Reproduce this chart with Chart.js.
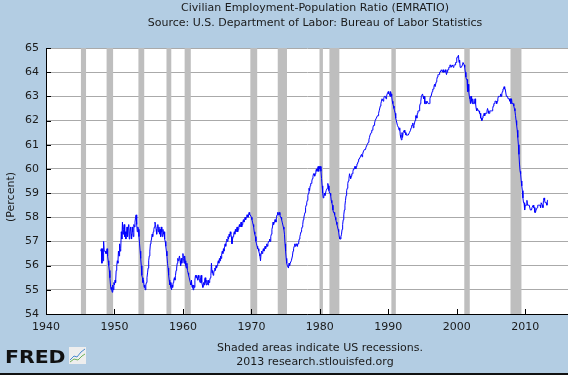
<!DOCTYPE html>
<html>
<head>
<meta charset="utf-8">
<script src="https://cdn.jsdelivr.net/npm/chart.js@4.4.1/dist/chart.umd.min.js"></script>
<style>
  html, body { margin: 0; padding: 0; background: #b3cde3; }
  canvas { display: block; }
</style>
</head>
<body>
<canvas id="chart-emratio" width="568" height="375"></canvas>
<script>
/* ---- Data: monthly EMRATIO, Jan 1948 onward ---- */
var startYear = 1948;
var emratio = [
  56.6, 56.7, 56.1, 56.7, 56.2, 57.0, 56.6, 56.6, 56.6, 56.5, 56.5, 56.7, // 1948
  56.4, 56.2, 56.0, 55.8, 55.5, 55.2, 55.0, 55.1, 54.9, 55.2, 55.0, 55.3, // 1949
  55.2, 55.4, 55.3, 55.8, 56.0, 56.2, 56.1, 56.6, 56.4, 56.9, 56.6, 56.7, // 1950
  57.4, 57.1, 57.8, 57.3, 57.5, 57.7, 57.2, 57.4, 57.1, 57.3, 57.6, 57.2, // 1951
  57.6, 57.7, 57.1, 57.4, 57.6, 57.3, 57.1, 57.6, 57.4, 57.2, 57.7, 57.6, // 1952
  57.8, 58.0, 58.1, 57.7, 57.4, 57.6, 57.5, 57.2, 56.9, 56.6, 56.3, 56.0, // 1953
  55.6, 55.5, 55.3, 55.4, 55.1, 55.2, 55.0, 55.2, 55.3, 55.5, 55.7, 55.9, // 1954
  56.2, 56.4, 56.6, 56.9, 57.0, 57.1, 57.3, 57.2, 57.4, 57.5, 57.6, 57.8, // 1955
  57.7, 57.5, 57.3, 57.6, 57.7, 57.4, 57.6, 57.3, 57.5, 57.2, 57.6, 57.4, // 1956
  57.2, 57.5, 57.3, 57.4, 57.1, 57.0, 56.8, 56.6, 56.4, 56.1, 55.9, 55.6, // 1957
  55.4, 55.2, 55.3, 55.1, 55.0, 55.2, 55.1, 55.3, 55.4, 55.5, 55.4, 55.6, // 1958
  55.8, 55.9, 56.1, 56.3, 56.2, 56.3, 56.4, 56.2, 56.0, 56.3, 56.1, 56.3, // 1959
  56.5, 56.3, 56.1, 56.4, 56.2, 56.0, 55.9, 56.1, 55.8, 55.7, 55.6, 55.5, // 1960
  55.5, 55.3, 55.2, 55.4, 55.1, 55.2, 55.0, 55.2, 55.1, 55.4, 55.6, 55.5, // 1961
  55.6, 55.5, 55.4, 55.6, 55.5, 55.4, 55.3, 55.5, 55.6, 55.3, 55.2, 55.1, // 1962
  55.3, 55.2, 55.4, 55.5, 55.3, 55.2, 55.4, 55.3, 55.2, 55.4, 55.3, 55.4, // 1963
  55.5, 55.6, 56.1, 55.7, 55.8, 55.6, 55.7, 55.8, 55.9, 55.8, 56.0, 55.9, // 1964
  56.0, 56.1, 56.2, 56.1, 56.3, 56.2, 56.4, 56.3, 56.5, 56.6, 56.5, 56.7, // 1965
  56.6, 56.8, 56.9, 56.8, 57.0, 57.1, 57.0, 57.2, 57.1, 57.3, 57.2, 57.4, // 1966
  57.3, 57.2, 56.9, 57.1, 57.2, 57.3, 57.4, 57.3, 57.5, 57.4, 57.5, 57.6, // 1967
  57.4, 57.5, 57.6, 57.7, 57.6, 57.7, 57.8, 57.6, 57.7, 57.8, 57.9, 57.8, // 1968
  57.9, 58.0, 57.9, 58.0, 58.1, 58.1, 58.0, 58.1, 58.2, 58.1, 58.1, 58.1, // 1969
  58.0, 57.9, 57.8, 57.7, 57.6, 57.4, 57.3, 57.2, 57.0, 56.9, 56.8, 56.7, // 1970
  56.7, 56.6, 56.5, 56.4, 56.2, 56.5, 56.6, 56.5, 56.6, 56.7, 56.6, 56.7, // 1971
  56.8, 56.7, 56.8, 56.9, 56.8, 56.9, 57.0, 57.0, 57.1, 57.0, 57.2, 57.3, // 1972
  57.5, 57.6, 57.8, 57.7, 57.8, 57.9, 57.9, 57.8, 58.0, 58.1, 58.2, 58.1, // 1973
  58.2, 58.2, 58.1, 58.0, 58.0, 57.9, 57.8, 57.8, 57.6, 57.5, 57.3, 56.9, // 1974
  56.6, 56.3, 56.1, 56.0, 56.0, 55.9, 56.1, 56.0, 56.1, 56.1, 56.2, 56.2, // 1975
  56.4, 56.6, 56.7, 56.8, 56.9, 56.8, 56.9, 56.9, 56.8, 56.9, 56.9, 57.0, // 1976
  57.1, 57.2, 57.3, 57.4, 57.5, 57.6, 57.7, 57.9, 58.0, 58.1, 58.2, 58.4, // 1977
  58.5, 58.6, 58.7, 58.9, 59.0, 59.2, 59.1, 59.3, 59.4, 59.4, 59.5, 59.6, // 1978
  59.7, 59.8, 59.8, 59.7, 59.8, 59.9, 60.0, 59.9, 60.0, 60.1, 59.9, 60.1, // 1979
  60.0, 60.1, 59.9, 59.6, 59.3, 59.0, 58.8, 58.9, 59.0, 58.9, 59.0, 59.1, // 1980
  59.1, 59.2, 59.4, 59.3, 59.1, 59.0, 59.0, 58.9, 58.7, 58.6, 58.5, 58.3, // 1981
  58.2, 58.2, 58.1, 58.0, 57.9, 57.8, 57.7, 57.6, 57.5, 57.4, 57.2, 57.1, // 1982
  57.1, 57.2, 57.3, 57.5, 57.7, 57.9, 58.1, 58.3, 58.5, 58.7, 58.9, 59.1, // 1983
  59.2, 59.4, 59.5, 59.6, 59.8, 59.7, 59.6, 59.7, 59.8, 59.8, 59.9, 60.0, // 1984
  60.0, 60.1, 60.1, 60.0, 60.1, 60.2, 60.2, 60.3, 60.4, 60.4, 60.4, 60.5, // 1985
  60.5, 60.6, 60.5, 60.6, 60.7, 60.7, 60.8, 60.8, 60.8, 60.9, 60.9, 61.0, // 1986
  61.0, 61.1, 61.2, 61.3, 61.4, 61.4, 61.5, 61.6, 61.6, 61.7, 61.8, 61.8, // 1987
  61.9, 62.0, 62.0, 62.1, 62.1, 62.2, 62.2, 62.3, 62.4, 62.4, 62.6, 62.7, // 1988
  62.8, 62.9, 62.9, 62.8, 62.9, 63.0, 63.0, 63.0, 62.9, 63.0, 63.1, 63.1, // 1989
  63.2, 63.1, 63.1, 63.0, 63.2, 63.1, 63.0, 62.8, 62.7, 62.6, 62.5, 62.4, // 1990
  62.3, 62.1, 62.0, 62.0, 61.8, 61.8, 61.7, 61.6, 61.7, 61.4, 61.3, 61.2, // 1991
  61.5, 61.3, 61.5, 61.5, 61.6, 61.5, 61.5, 61.4, 61.4, 61.4, 61.4, 61.4, // 1992
  61.4, 61.5, 61.5, 61.6, 61.7, 61.8, 61.8, 61.9, 61.7, 61.8, 61.9, 62.0, // 1993
  62.2, 62.2, 62.1, 62.3, 62.4, 62.4, 62.4, 62.6, 62.7, 62.8, 63.0, 63.0, // 1994
  63.1, 63.0, 62.9, 63.0, 62.7, 62.7, 62.8, 62.7, 62.8, 62.8, 62.7, 62.7, // 1995
  62.7, 62.9, 63.0, 63.0, 63.0, 63.2, 63.3, 63.3, 63.4, 63.5, 63.4, 63.4, // 1996
  63.6, 63.7, 63.8, 63.9, 63.9, 63.9, 64.0, 64.0, 64.0, 64.1, 64.1, 64.0, // 1997
  64.1, 64.0, 64.0, 64.0, 64.1, 64.0, 63.9, 64.0, 64.1, 64.1, 64.2, 64.2, // 1998
  64.3, 64.3, 64.2, 64.2, 64.3, 64.3, 64.2, 64.3, 64.3, 64.3, 64.4, 64.4, // 1999
  64.6, 64.6, 64.6, 64.7, 64.4, 64.5, 64.2, 64.2, 64.2, 64.2, 64.3, 64.4, // 2000
  64.4, 64.3, 64.2, 64.0, 63.8, 63.7, 63.7, 63.2, 63.5, 63.2, 63.0, 62.9, // 2001
  62.7, 63.0, 62.8, 62.7, 62.9, 62.7, 62.7, 62.7, 62.9, 62.7, 62.5, 62.4, // 2002
  62.5, 62.5, 62.4, 62.4, 62.3, 62.3, 62.1, 62.1, 62.0, 62.1, 62.2, 62.2, // 2003
  62.3, 62.2, 62.3, 62.3, 62.3, 62.4, 62.5, 62.4, 62.3, 62.3, 62.4, 62.4, // 2004
  62.4, 62.4, 62.4, 62.5, 62.6, 62.7, 62.7, 62.8, 62.8, 62.8, 62.7, 62.8, // 2005
  62.9, 63.0, 63.0, 63.0, 63.0, 63.1, 63.0, 63.1, 63.2, 63.3, 63.3, 63.4, // 2006
  63.3, 63.3, 63.3, 63.0, 63.0, 63.0, 62.9, 62.9, 62.9, 62.8, 62.9, 62.7, // 2007
  62.9, 62.7, 62.7, 62.7, 62.6, 62.5, 62.4, 62.2, 62.0, 61.8, 61.6, 61.3, // 2008
  61.0, 60.6, 60.2, 59.9, 59.8, 59.5, 59.3, 59.1, 58.8, 58.6, 58.6, 58.3, // 2009
  58.5, 58.5, 58.5, 58.7, 58.5, 58.5, 58.5, 58.5, 58.5, 58.3, 58.3, 58.3, // 2010
  58.4, 58.4, 58.5, 58.4, 58.4, 58.2, 58.2, 58.3, 58.3, 58.4, 58.5, 58.5, // 2011
  58.5, 58.5, 58.5, 58.4, 58.6, 58.6, 58.5, 58.4, 58.7, 58.8, 58.7, 58.6, // 2012
  58.6, 58.6, 58.5, 58.7, 58.7                                            // 2013
];

/* NBER recessions, as decimal years (start / end of each shaded band) */
var recStart = [1945.1, 1948.85, 1953.5, 1957.6, 1960.25, 1969.85, 1973.85, 1979.95, 1981.4, 1990.45, 2001.1, 2007.85];
var recEnd   = [1945.85, 1949.8, 1954.35, 1958.3, 1961.15, 1970.85, 1975.2, 1980.45, 1982.85, 1991.1, 2001.9, 2009.45];

var xTicks = [1940, 1950, 1960, 1970, 1980, 1990, 2000, 2010];
var yMin = 54, yMax = 65;

var titleLines = [
  'Civilian Employment-Population Ratio (EMRATIO)',
  'Source: U.S. Department of Labor: Bureau of Labor Statistics'
];
var footLines = [
  'Shaded areas indicate US recessions.',
  '2013 research.stlouisfed.org'
];

var FONT = "'DejaVu Sans', Verdana, sans-serif";
var BG = '#b3cde3';

var points = emratio.map(function (v, i) {
  return { x: startYear + i / 12, y: v };
});

/* ---- FRED frame: background, recession bars, inside ticks, texts ---- */
var fredFrame = {
  id: 'fredFrame',
  beforeDraw: function (chart) {
    var c = chart.ctx, a = chart.chartArea;
    c.save();
    c.fillStyle = BG;
    c.fillRect(0, 0, chart.width, chart.height);
    c.fillStyle = '#ffffff';
    c.fillRect(a.left, a.top, a.right - a.left, a.bottom - a.top);
    c.restore();
  },
  beforeDatasetsDraw: function (chart) {
    var c = chart.ctx, a = chart.chartArea, xs = chart.scales.x;
    c.save();
    c.fillStyle = '#bebebe';
    for (var i = 0; i < recStart.length; i++) {
      var x0 = xs.getPixelForValue(recStart[i]);
      var x1 = xs.getPixelForValue(recEnd[i]);
      c.fillRect(x0, a.top, x1 - x0, a.bottom - a.top);
    }
    c.restore();
  },
  afterDraw: function (chart) {
    var c = chart.ctx, a = chart.chartArea;
    var xs = chart.scales.x, ys = chart.scales.y;
    c.save();

    /* tick marks drawn inward, like the FRED graph */
    c.strokeStyle = '#000';
    c.lineWidth = 1;
    c.beginPath();
    ys.ticks.forEach(function (t) {
      var y = Math.round(ys.getPixelForValue(t.value)) + 0.5;
      c.moveTo(a.left, y);
      c.lineTo(a.left + 5, y);
    });
    xs.ticks.forEach(function (t) {
      var x = Math.round(xs.getPixelForValue(t.value)) + 0.5;
      c.moveTo(x, a.bottom);
      c.lineTo(x, a.bottom - 5);
    });
    c.stroke();

    /* titles and footer */
    c.fillStyle = '#1a1a1a';
    c.font = '11px ' + FONT;
    c.textAlign = 'center';
    c.textBaseline = 'middle';
    c.fillText(titleLines[0], 315, 8);
    c.fillText(titleLines[1], 315, 23);
    c.fillText(footLines[0], 320, 348);
    c.fillText(footLines[1], 315, 362);

    /* y-axis title */
    c.save();
    c.translate(11, 197);
    c.rotate(-Math.PI / 2);
    c.fillText('(Percent)', 0, 0);
    c.restore();

    /* FRED logo */
    c.save();
    c.textAlign = 'left';
    c.textBaseline = 'alphabetic';
    c.fillStyle = '#111';
    c.font = 'bold 17px ' + FONT;
    c.translate(5, 363);
    c.scale(1.2, 1);
    c.fillText('FRED', 0, 0);
    c.restore();
    c.fillStyle = '#eeeeee';
    c.fillRect(69, 347, 17, 17);
    c.lineWidth = 1;
    c.strokeStyle = '#4a8ad0';
    c.beginPath();
    c.moveTo(70, 360); c.lineTo(74, 356); c.lineTo(77, 357); c.lineTo(81, 352); c.lineTo(85, 349);
    c.stroke();
    c.strokeStyle = '#6db35a';
    c.beginPath();
    c.moveTo(70, 362); c.lineTo(74, 359); c.lineTo(78, 360); c.lineTo(82, 356); c.lineTo(85, 354);
    c.stroke();

    /* bottom rule */
    c.fillStyle = '#111';
    c.fillRect(0, chart.height - 2, chart.width, 2);
    c.restore();
  }
};

new Chart(document.getElementById('chart-emratio'), {
  type: 'line',
  data: {
    datasets: [{
      data: points,
      borderColor: '#0000ff',
      borderWidth: 1,
      pointRadius: 0,
      tension: 0,
      fill: false
    }]
  },
  options: {
    responsive: false,
    devicePixelRatio: 1,
    animation: false,
    layout: { padding: { top: 48, left: 0, right: 0, bottom: 0 } },
    plugins: {
      legend: { display: false },
      tooltip: { enabled: false }
    },
    scales: {
      x: {
        type: 'linear',
        min: 1940,
        max: 2016.25,
        afterFit: function (s) { s.height = 61; },
        afterBuildTicks: function (s) {
          s.ticks = xTicks.map(function (v) { return { value: v }; });
        },
        ticks: {
          font: { family: FONT, size: 11 },
          color: '#1a1a1a',
          padding: 7,
          maxRotation: 0,
          autoSkip: false,
          callback: function (v) { return String(v); }
        },
        grid: { display: false, drawTicks: false },
        border: { display: true, color: '#000', width: 1, z: 1 }
      },
      y: {
        min: yMin,
        max: yMax,
        afterFit: function (s) { s.width = 46; },
        ticks: {
          stepSize: 1,
          font: { family: FONT, size: 11 },
          color: '#1a1a1a',
          padding: 7
        },
        grid: { color: '#aaaaaa', lineWidth: 1, drawTicks: false },
        border: { display: true, color: '#000', width: 1, z: 1 }
      }
    }
  },
  plugins: [fredFrame]
});
</script>
</body>
</html>
